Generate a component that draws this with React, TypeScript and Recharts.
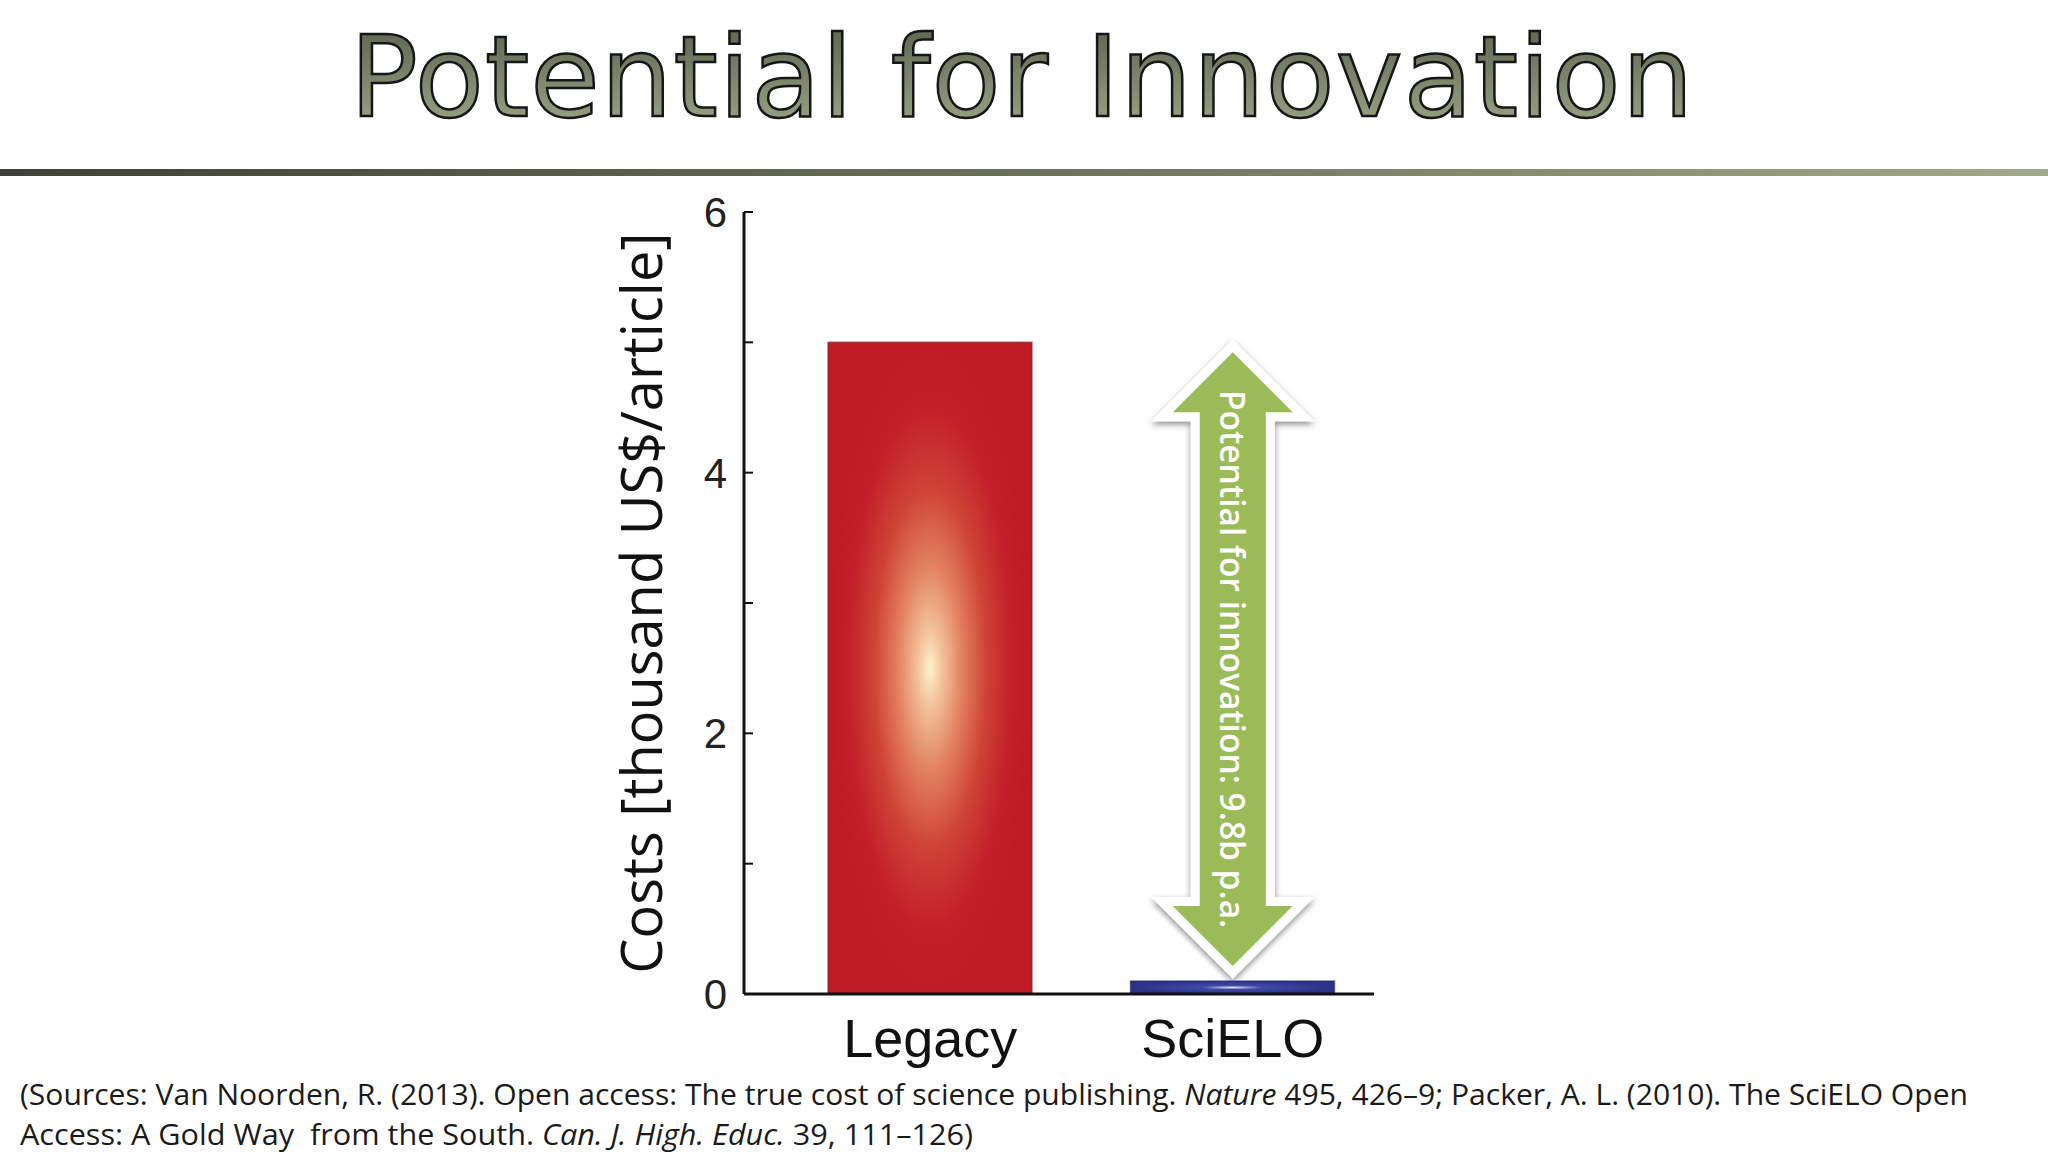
import React from 'react';
import { BarChart, Bar, XAxis, YAxis, Cell, ReferenceArea } from 'recharts';

// chart values
const categories = ['Legacy', 'SciELO'];
const costs = [5.0, 0.1];
const yTicks = [0, 1, 2, 3, 4, 5, 6];
const yTickLabels = ['0', '', '2', '', '4', '', '6'];
const barFills = ['url(#legacyGlow)', 'url(#scieloGlow)'];

const title = 'Potential for Innovation';
const yLabel = 'Costs [thousand US$/article]';
const arrowLabel = 'Potential for innovation: 9.8b p.a.';

const data = categories.map((name, i) => ({ name, cost: costs[i] }));

const W = 2048;
const H = 1152;

// green double arrow between the two bar tops
function InnovationArrow(props: any) {
  const { x, y, width, height } = props;
  const cx = x + width / 2;
  const top = y + 10;
  const bottom = y + height - 15;
  const headH = 60;
  const headW = 60;
  const shaftW = 33;
  const pts = [
    [cx, top],
    [cx + headW, top + headH],
    [cx + shaftW, top + headH],
    [cx + shaftW, bottom - headH],
    [cx + headW, bottom - headH],
    [cx, bottom],
    [cx - headW, bottom - headH],
    [cx - shaftW, bottom - headH],
    [cx - shaftW, top + headH],
    [cx - headW, top + headH],
  ]
    .map((p) => p.join(','))
    .join(' ');
  const mid = (top + bottom) / 2;
  return (
    <g>
      <polygon points={pts} fill="#fff" stroke="#fff" strokeWidth={18} strokeLinejoin="miter" filter="url(#arrowShadow)" />
      <polygon points={pts} fill="#9bbb59" />
      <text
        x={cx}
        y={mid}
        transform={`rotate(90 ${cx} ${mid})`}
        textAnchor="middle"
        dominantBaseline="central"
        fill="#fff"
        fontFamily="'Open Sans', sans-serif"
        fontWeight={600}
        fontSize={33.5}
      >
        {arrowLabel}
      </text>
    </g>
  );
}

export default function App() {
  return (
    <div style={{ position: 'absolute', left: 0, top: 0, width: W, height: H, background: '#fff', overflow: 'hidden' }}>
      {/* slide title, rule and sources */}
      <svg width={W} height={H} style={{ position: 'absolute', left: 0, top: 0 }}>
        <defs>
          <linearGradient id="titleFill" x1="0" y1="0" x2="0" y2="1">
            <stop offset="0" stopColor="#565c49" />
            <stop offset="1" stopColor="#a3ac8c" />
          </linearGradient>
          <linearGradient id="ruleFill" x1="0" y1="0" x2="1" y2="0">
            <stop offset="0" stopColor="#3e4238" />
            <stop offset="0.5" stopColor="#6b7159" />
            <stop offset="1" stopColor="#a2a88d" />
          </linearGradient>
        </defs>
        <text
          x={1022}
          y={116}
          textAnchor="middle"
          fontFamily="'DejaVu Sans', Verdana, sans-serif"
          fontSize={113}
          letterSpacing={1}
          fill="url(#titleFill)"
          stroke="#161616"
          strokeWidth={2.5}
        >
          {title}
        </text>
        <rect x={0} y={169} width={W} height={7} fill="url(#ruleFill)" />
        <text
          x={20}
          y={1105}
          fontFamily="'Open Sans', sans-serif"
          fontSize={29}
          fill="#1a1a1a"
          textLength={1948}
          lengthAdjust="spacingAndGlyphs"
        >
          (Sources: Van Noorden, R. (2013). Open access: The true cost of science publishing.{' '}
          <tspan fontStyle="italic">Nature</tspan> 495, 426–9; Packer, A. L. (2010). The SciELO Open
        </text>
        <text
          x={20}
          y={1145}
          fontFamily="'Open Sans', sans-serif"
          fontSize={29}
          fill="#1a1a1a"
          textLength={953}
          lengthAdjust="spacingAndGlyphs"
          style={{ whiteSpace: 'pre' }}
        >
          {'Access: A Gold Way  from the South. '}
          <tspan fontStyle="italic">Can. J. High. Educ.</tspan>
          {' 39, 111–126)'}
        </text>
      </svg>

      <div style={{ position: 'absolute', left: 0, top: 0 }}>
        <BarChart width={W} height={H} data={data} margin={{ top: 212, right: 674, bottom: 78, left: 540 }}>
          <defs>
            <radialGradient id="legacyGlow" cx="0.5" cy="0.5" r="0.5">
              <stop offset="0" stopColor="#fdf2cc" />
              <stop offset="0.12" stopColor="#f2c29a" />
              <stop offset="0.32" stopColor="#e2805f" />
              <stop offset="0.55" stopColor="#cf4336" />
              <stop offset="0.8" stopColor="#c2202a" />
              <stop offset="1" stopColor="#bd1c26" />
            </radialGradient>
            <radialGradient id="scieloGlow" cx="0.5" cy="0.5" r="0.5">
              <stop offset="0" stopColor="#f2ead8" />
              <stop offset="0.08" stopColor="#b8b4e0" />
              <stop offset="0.3" stopColor="#3e4aa8" />
              <stop offset="1" stopColor="#2a3388" />
            </radialGradient>
            <filter id="arrowShadow" x="-30%" y="-10%" width="160%" height="120%">
              <feDropShadow dx="0" dy="3" stdDeviation="3" floodColor="#000" floodOpacity="0.45" />
            </filter>
          </defs>
          <XAxis
            dataKey="name"
            type="category"
            padding={{ left: 35, right: -10 }}
            height={80}
            tickLine={false}
            tickSize={0}
            tickMargin={25}
            axisLine={{ stroke: '#111', strokeWidth: 3 }}
            tick={{ fontSize: 54, fontFamily: "'Liberation Sans', Arial, sans-serif", fill: '#111' }}
          />
          <YAxis
            type="number"
            domain={[0, 6]}
            ticks={yTicks}
            interval={0}
            width={204}
            tickSize={-9}
            tickMargin={26}
            tickFormatter={(v: number) => yTickLabels[yTicks.indexOf(v)]}
            axisLine={{ stroke: '#111', strokeWidth: 3 }}
            tickLine={{ stroke: '#111', strokeWidth: 2 }}
            tick={{ fontSize: 42, fontFamily: "'Liberation Sans', Arial, sans-serif", fill: '#222' }}
            label={{
              value: yLabel,
              angle: -90,
              position: 'center',
              fontSize: 56,
              fontFamily: "'Open Sans', sans-serif",
              fill: '#111',
            }}
          />
          <Bar dataKey="cost" barSize={204} isAnimationActive={false}>
            {data.map((d, i) => (
              <Cell key={d.name} fill={barFills[i]} stroke={i === 0 ? '#8a1a1e' : '#222a70'} strokeWidth={1.5} strokeOpacity={0.6} />
            ))}
          </Bar>
          <ReferenceArea
            x1="SciELO"
            x2="SciELO"
            y1={costs[1]}
            y2={costs[0]}
            ifOverflow="visible"
            shape={InnovationArrow}
          />
        </BarChart>
      </div>
    </div>
  );
}
